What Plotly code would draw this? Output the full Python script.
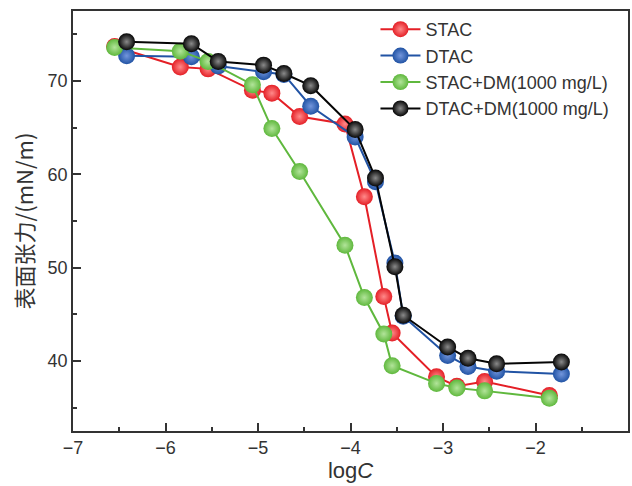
import plotly.graph_objects as go

# logC positions (STAC series share one grid, DTAC series share another)
logc_stac = [-6.55, -5.84, -5.54, -5.06, -4.85, -4.55, -4.06, -3.85, -3.64, -3.55, -3.07, -2.85, -2.55, -1.85]
logc_dtac = [-6.42, -5.72, -5.43, -4.94, -4.72, -4.43, -3.95, -3.73, -3.52, -3.43, -2.95, -2.73, -2.42, -1.72]

# surface tension, mN/m
st_stac = [73.7, 71.5, 71.3, 69.0, 68.7, 66.2, 65.4, 57.6, 46.9, 43.0, 38.3, 37.3, 37.8, 36.3]
st_dtac = [72.7, 72.6, 71.6, 71.0, 70.7, 67.3, 64.0, 59.2, 50.5, 44.8, 40.6, 39.4, 38.9, 38.6]
st_stac_dm = [73.6, 73.2, 72.1, 69.6, 64.9, 60.3, 52.4, 46.8, 42.9, 39.5, 37.6, 37.1, 36.8, 36.0]
st_dtac_dm = [74.2, 74.0, 72.1, 71.7, 70.8, 69.5, 64.8, 59.6, 50.1, 44.9, 41.5, 40.3, 39.7, 39.9]

# (name, x, y, body colour, highlight colour)
series = [
    ("STAC", logc_stac, st_stac, "#e41f26", "#ff8a8a"),
    ("DTAC", logc_dtac, st_dtac, "#2153a4", "#7396dc"),
    ("STAC+DM(1000 mg/L)", logc_stac, st_stac_dm, "#5fb83d", "#b2e49a"),
    ("DTAC+DM(1000 mg/L)", logc_dtac, st_dtac_dm, "#050505", "#8a8a8a"),
]

AX = "#333333"
FONT = "Liberation Sans, Arial, sans-serif"

fig = go.Figure()
for name, xs, ys, col, hi in series:
    # shaded spheres: highlight in the centre, body colour towards the rim
    fig.add_trace(go.Scatter(
        x=xs, y=ys, name=name, mode="lines+markers",
        line=dict(color=col, width=2),
        marker=dict(size=17, color=col, symbol="circle",
                    line=dict(width=0),
                    gradient=dict(type="radial", color=hi)),
    ))

fig.update_layout(
    width=632, height=486,
    margin=dict(l=73, r=2, t=11, b=55),
    paper_bgcolor="white", plot_bgcolor="white",
    font=dict(family=FONT, size=18, color=AX),
    showlegend=True,
    legend=dict(
        x=0.545, y=1.0, xanchor="left", yanchor="top",
        bgcolor="rgba(0,0,0,0)", borderwidth=0,
        font=dict(size=18, color=AX),
        itemwidth=40, tracegroupgap=0,
    ),
    xaxis=dict(
        range=[-7, -1], dtick=1, tick0=-7,
        showline=True, linecolor=AX, linewidth=1.5, mirror=True,
        ticks="inside", ticklen=8, tickwidth=1.5, tickcolor=AX,
        minor=dict(dtick=0.5, ticks="inside", ticklen=4, tickwidth=1.5, tickcolor=AX),
        showgrid=False, zeroline=False,
        tickfont=dict(size=18, color=AX),
        title=dict(text="log<i>C</i>", font=dict(size=22, color=AX), standoff=4),
    ),
    yaxis=dict(
        range=[32.5, 77.5], dtick=10, tick0=40,
        showline=True, linecolor=AX, linewidth=1.5, mirror=True,
        ticks="inside", ticklen=8, tickwidth=1.5, tickcolor=AX,
        minor=dict(dtick=5, ticks="inside", ticklen=4, tickwidth=1.5, tickcolor=AX),
        showgrid=False, zeroline=False,
        tickfont=dict(size=18, color=AX),
        title=dict(text="表面张力/(mN/m)",
                   font=dict(size=22, color=AX, family="Noto Sans CJK SC, " + FONT),
                   standoff=8),
    ),
)

fig.write_html("out.html")
